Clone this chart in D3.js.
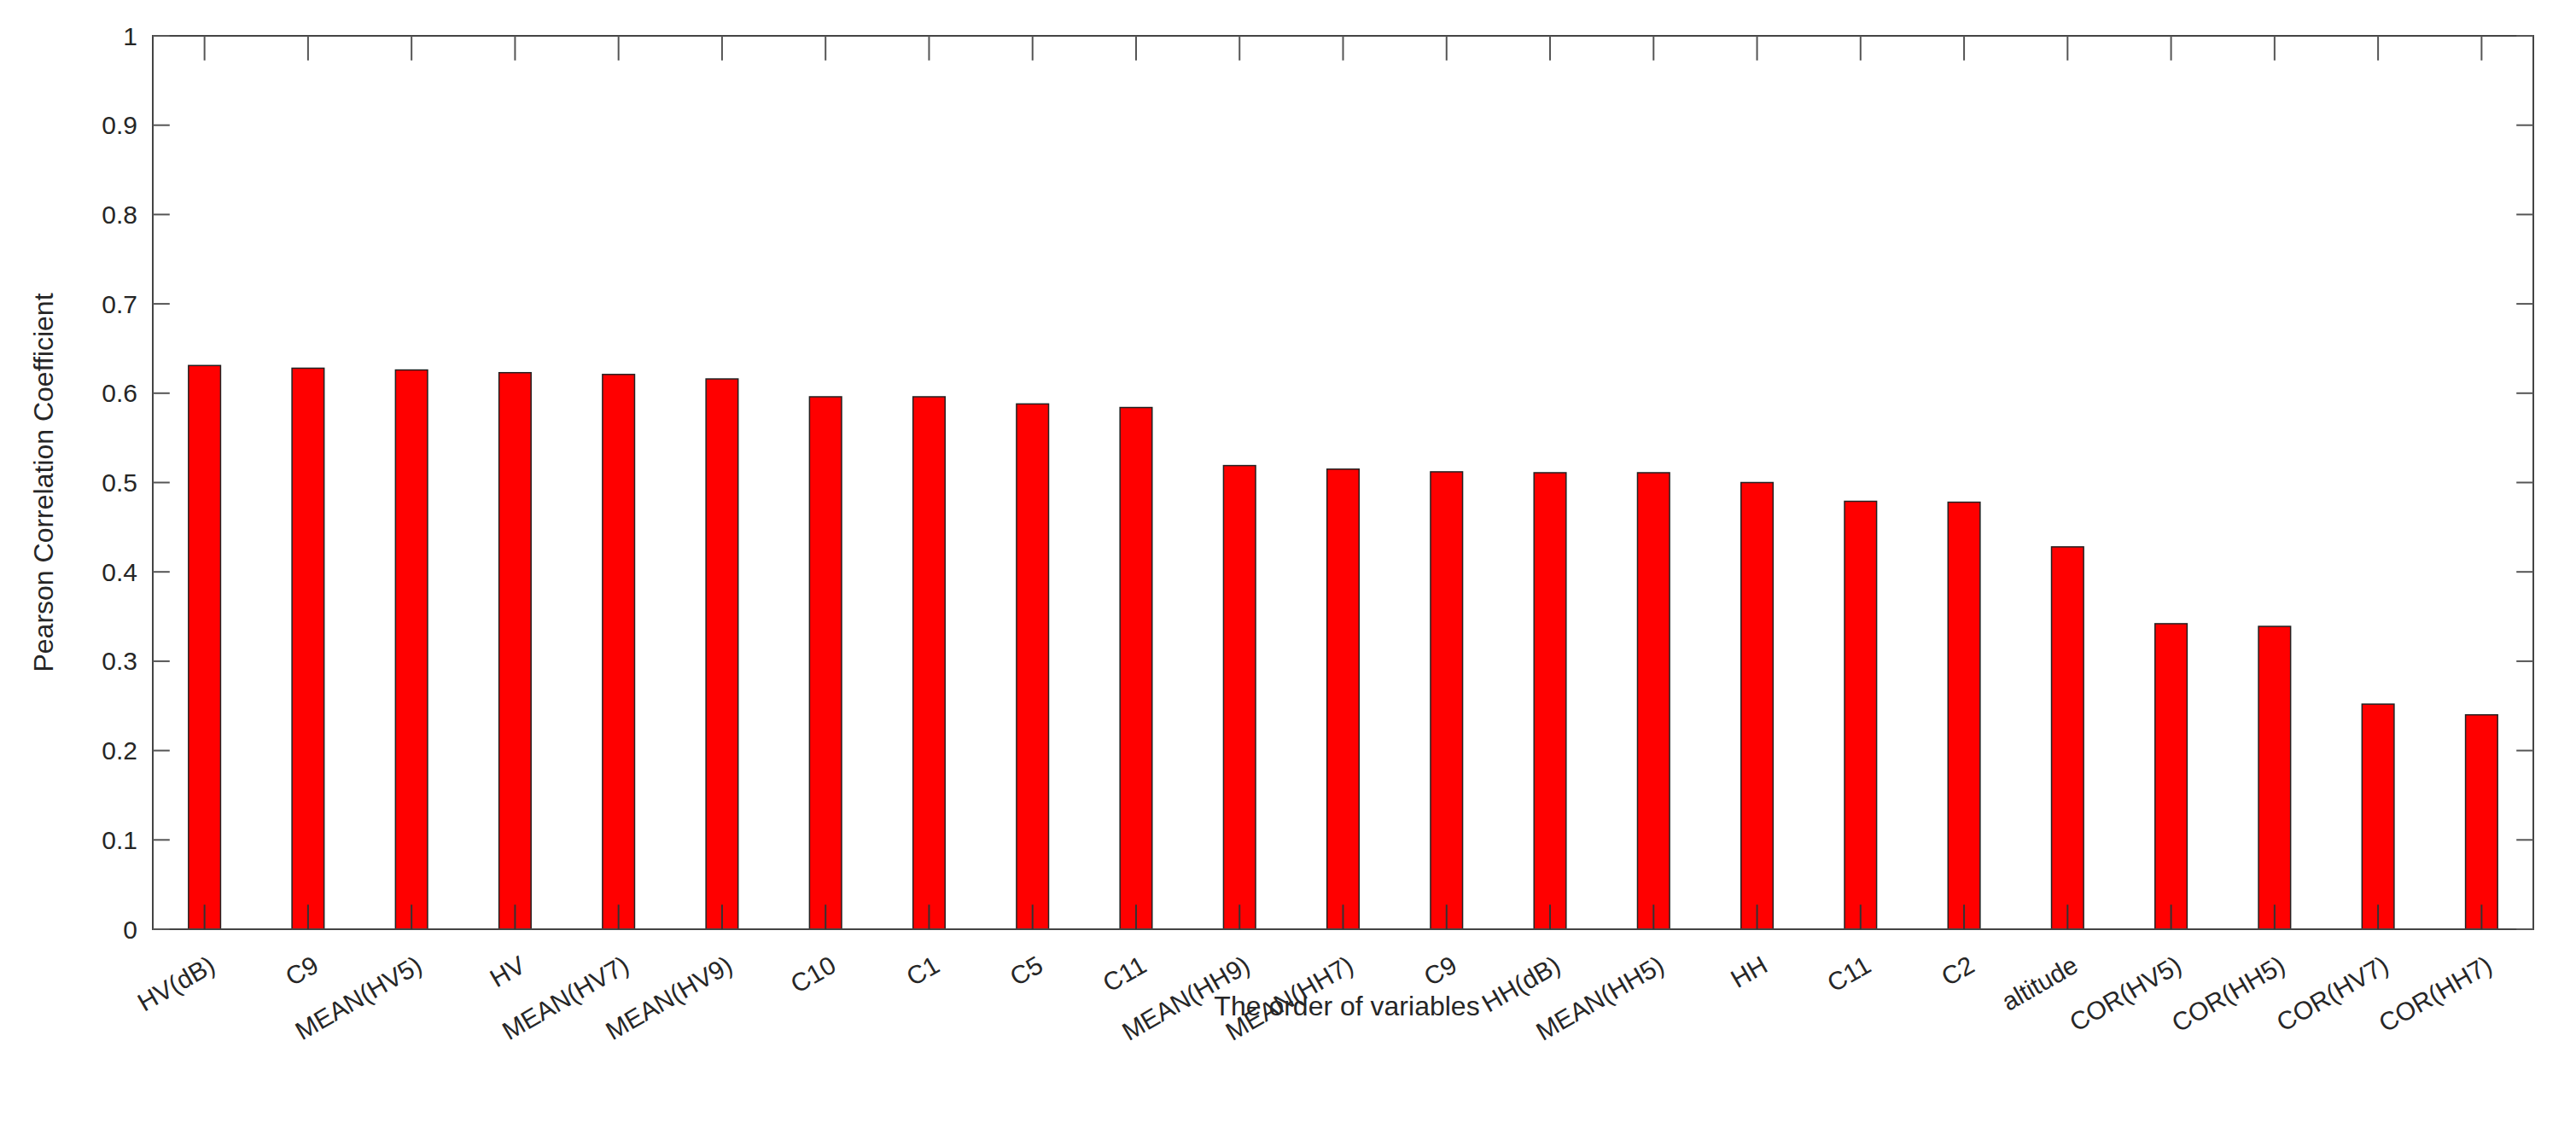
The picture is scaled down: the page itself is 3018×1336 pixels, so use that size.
<!DOCTYPE html><html><head><script src="https://cdn.jsdelivr.net/npm/d3@7"></script>
<style>body{margin:0;background:#fff}text{font-family:"Liberation Sans",Arial,sans-serif;fill:#262626}</style></head><body>
<script>
const categories=["HV(dB)","C9","MEAN(HV5)","HV","MEAN(HV7)","MEAN(HV9)","C10","C1","C5","C11","MEAN(HH9)","MEAN(HH7)","C9","HH(dB)","MEAN(HH5)","HH","C11","C2","altitude","COR(HV5)","COR(HH5)","COR(HV7)","COR(HH7)"];
const values=[0.631,0.628,0.626,0.623,0.621,0.616,0.596,0.596,0.588,0.584,0.519,0.515,0.512,0.511,0.511,0.5,0.479,0.478,0.428,0.342,0.339,0.252,0.24];
const yTicks=[0,0.1,0.2,0.3,0.4,0.5,0.6,0.7,0.8,0.9,1];
const W=3018,H=1336,L=179,R=2968,T=42,B=1089;
const svg=d3.select("body").append("svg").attr("width",W).attr("height",H);
const idx=categories.map((c,i)=>i);
const x=d3.scaleBand().domain(idx).range([L,R]).paddingInner(0.69).paddingOuter(0.345);
const y=d3.scaleLinear().domain([0,1]).range([B,T]);
svg.selectAll("rect.bar").data(values).join("rect").attr("class","bar")
 .attr("x",(d,i)=>x(i)).attr("width",x.bandwidth()).attr("y",d=>y(d)).attr("height",d=>B-y(d))
 .attr("fill","#ff0000").attr("stroke","#222").attr("stroke-width",1.5);
const ax=svg.append("g");
ax.append("rect").attr("x",L).attr("y",T).attr("width",R-L).attr("height",B-T).attr("fill","none").attr("stroke","#444").attr("stroke-width",2);
const tl=18;
idx.forEach(i=>{const cx=x(i)+x.bandwidth()/2;
 ax.append("line").attr("x1",cx).attr("x2",cx).attr("y1",B).attr("y2",B-tl*1.6).attr("stroke","#333").attr("stroke-width",2);
 ax.append("line").attr("x1",cx).attr("x2",cx).attr("y1",T).attr("y2",T+tl*1.6).attr("stroke","#555").attr("stroke-width",2);});
yTicks.forEach(t=>{
 ax.append("line").attr("x1",L).attr("x2",L+tl*1.1).attr("y1",y(t)).attr("y2",y(t)).attr("stroke","#555").attr("stroke-width",2);
 ax.append("line").attr("x1",R).attr("x2",R-tl*1.1).attr("y1",y(t)).attr("y2",y(t)).attr("stroke","#555").attr("stroke-width",2);
 ax.append("text").attr("x",L-18).attr("y",y(t)).attr("dy","0.35em").attr("text-anchor","end").attr("font-size",30).text(d3.format("~g")(t));});
categories.forEach((c,i)=>{const cx=x(i)+x.bandwidth()/2;
 ax.append("text").attr("transform",`translate(${cx+4},${B+30}) rotate(-30)`).attr("text-anchor","end").attr("dy","0.7em").attr("font-size",30).text(c);});
svg.append("text").attr("transform",`translate(62,${(T+B)/2}) rotate(-90)`).attr("text-anchor","middle").attr("font-size",32).text("Pearson Correlation Coefficient");
svg.append("text").attr("x",1578).attr("y",1190).attr("text-anchor","middle").attr("font-size",32).text("The order of variables");
</script></body></html>
